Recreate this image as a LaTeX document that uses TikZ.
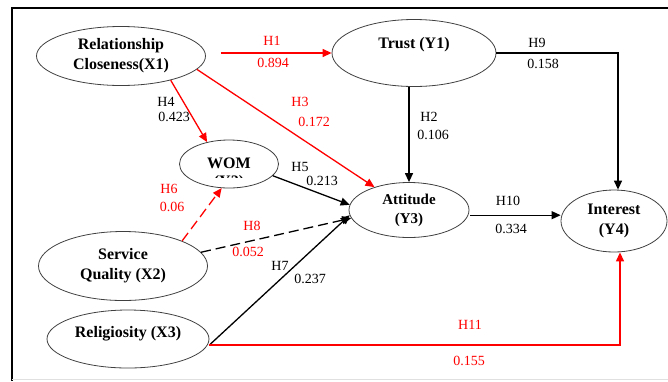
\documentclass[tikz,border=0pt]{standalone}
\usepackage{fontspec}
\setmainfont{Liberation Serif}
\usetikzlibrary{shapes.geometric,arrows.meta,positioning}

\tikzset{
  construct/.style={ellipse, draw=black!75, line width=0.8pt, inner sep=0pt,
    align=center, font=\fontsize{16}{20}\selectfont\bfseries},
  constxt/.style={inner sep=0pt, anchor=base, font=\fontsize{16}{20}\selectfont\bfseries},
  link/.style={line width=1.3pt, -{Triangle[length=9pt,width=8pt]}},
  redlink/.style={link, red},
  lbl/.style={inner sep=0pt, font=\fontsize{14}{16}\selectfont},
  redlbl/.style={lbl, text=red},
}

\begin{document}
\begin{tikzpicture}[x=1pt, y=-1pt]
    \useasboundingbox (0,0) rectangle (668,381);
    % frame
    \draw[line width=2pt] (668,8) -- (12,8) -- (12,381);
    \draw[black!12, line width=1pt] (12,379.5) -- (668,379.5);

    % constructs
    \node[construct, minimum width=169pt, minimum height=59pt] (rc) at (121,56) {Relationship\\Closeness(X1)};
    \node[construct, minimum width=164pt, minimum height=67pt] (trust) at (414,53) {Trust (Y1)\\\phantom{X}};
    \node[construct, minimum width=99pt, minimum height=48pt] (wom) at (229,164) {};
    \begin{scope}
        \clip (180,140) rectangle (280,177);
        \node[constxt] (womtxt) at (229,168) {WOM};
        \node[constxt] (womsub) at (229,186) {(Y2)};
    \end{scope}
    \node[construct, font=\fontsize{15}{19}\selectfont\bfseries, minimum width=120pt, minimum height=55pt] (att) at (409,210) {Attitude\\(Y3)};
    \node[construct, minimum width=106pt, minimum height=62pt] (int) at (614,221) {Interest\\(Y4)};
    \node[construct, minimum width=169pt, minimum height=69pt] (sq) at (123,266) {Service\\Quality (X2)};
    \node[construct, minimum width=162pt, minimum height=58pt] (rel) at (128,339) {Religiosity (X3)\\[-6pt]\phantom{X}};
    \coordinate (relout) at ([yshift=-6pt]rel.east);

    % paths
    \draw[redlink, shorten <=15pt] (rc.east |- trust.west) -- (trust.west);
    \draw[link] (trust.east) -| ([xshift=4pt]int.north);
    \draw[link] (att.north |- trust.south) -- (att.north);
    \draw[redlink] (rc.-10) -- (att);
    \draw[redlink] (rc.-26) -- (wom.135);
    \draw[link] (wom.-15) -- (att.175);
    \draw[redlink, dash pattern=on 10pt off 5pt] (sq.23) -- (wom.-107);
    \draw[link, dash pattern=on 10pt off 5pt] (sq.10) -- (att.188);
    \draw[link] (relout) -- (att.185);
    \draw[link, shorten <=2pt] (att.-5) -- (att.-5 -| int.west);
    \draw[redlink] (relout) -| ([xshift=6pt]int.south);

    % labels
    \node[redlbl] (h1) at (272,41) {H1};
    \node[redlbl] (h1v) at (273,63) {0.894};
    \node[lbl] (h9) at (537,43) {H9};
    \node[lbl] (h9v) at (543,64) {0.158};
    \node[lbl] (h2) at (429,117) {H2};
    \node[lbl] (h2v) at (433,135) {0.106};
    \node[redlbl] (h3) at (300,102) {H3};
    \node[redlbl] (h3v) at (314,122) {0.172};
    \node[lbl] (h4) at (166,102) {H4};
    \node[lbl] (h4v) at (174,117) {0.423};
    \node[lbl] (h5) at (300,167) {H5};
    \node[lbl] (h5v) at (322,181) {0.213};
    \node[redlbl] (h6) at (169,189) {H6};
    \node[redlbl] (h6v) at (172,207) {0.06};
    \node[redlbl] (h8) at (252,226) {H8};
    \node[redlbl] (h8v) at (248,252) {0.052};
    \node[lbl] (h7) at (280,266) {H7};
    \node[lbl] (h7v) at (310,279) {0.237};
    \node[lbl] (h10) at (508,201) {H10};
    \node[lbl] (h10v) at (511,229) {0.334};
    \node[redlbl] (h11) at (470,325) {H11};
    \node[redlbl] (h11v) at (469,361) {0.155};
\end{tikzpicture}
\end{document}
